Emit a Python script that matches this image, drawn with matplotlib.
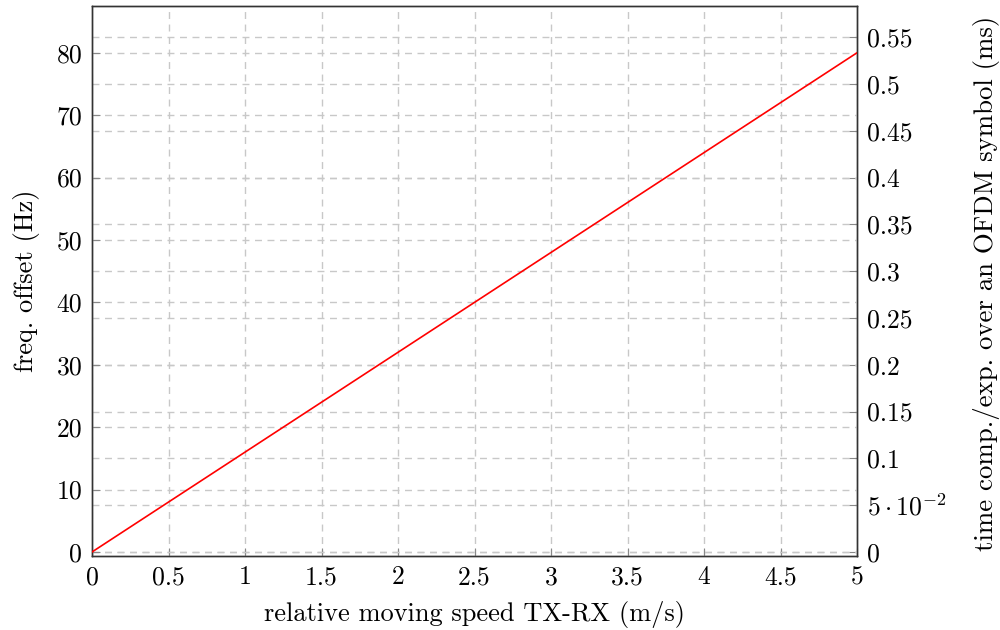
import matplotlib
matplotlib.use("Agg")
import matplotlib.pyplot as plt
import numpy as np

speed = [0, 1, 2, 3, 4, 5]            # m/s
freq_offset = [0, 16, 32, 48, 64, 80]  # Hz
left_ticks = [0, 10, 20, 30, 40, 50, 60, 70, 80]
right_ticks = [0, 0.05, 0.1, 0.15, 0.2, 0.25, 0.3, 0.35, 0.4, 0.45, 0.5, 0.55]
right_labels = ['0', r'$5\cdot10^{-2}$', '0.1', '0.15', '0.2', '0.25', '0.3',
                '0.35', '0.4', '0.45', '0.5', '0.55']
x_ticks = [0, 0.5, 1, 1.5, 2, 2.5, 3, 3.5, 4, 4.5, 5]
x_labels = ['0', '0.5', '1', '1.5', '2', '2.5', '3', '3.5', '4', '4.5', '5']
ms_per_hz = 1 / 150.0

plt.rcParams['font.family'] = ['cmr10', 'DejaVu Serif']
plt.rcParams['mathtext.fontset'] = 'cm'
plt.rcParams['axes.formatter.use_mathtext'] = True
plt.rcParams['font.size'] = 18

fig = plt.figure(figsize=(10, 6.3), dpi=100)
ax = fig.add_axes([0.092, 0.1175, 0.765, 0.873])
ax2 = ax.twinx()
# keep the red line above the right-axis grid
ax.set_zorder(ax2.get_zorder() + 1)
ax.patch.set_visible(False)

grid_kw = dict(color='#c8c8c8', linestyle=(0, (5, 4)), linewidth=1.0)

ax.plot(speed, freq_offset, color='#ff0000', linewidth=1.2, zorder=5)
ax.set_xlim(0, 5)
ax.set_ylim(-0.64, 87.5)
ax2.set_ylim(-0.64 * ms_per_hz, 87.5 * ms_per_hz)

ax.set_xticks(x_ticks)
ax.set_xticklabels(x_labels)
ax.set_yticks(left_ticks)
ax.set_yticklabels([str(t) for t in left_ticks])
ax2.set_yticks(right_ticks)
ax2.set_yticklabels(right_labels)

ax.grid(True, **grid_kw)
ax2.grid(True, axis='y', **grid_kw)
ax.set_axisbelow(True)

for a in (ax, ax2):
    a.tick_params(direction='in', length=6, width=0.8, color='#888888', labelsize=18.5)
    for s in a.spines.values():
        s.set_linewidth(1.0)
        s.set_color('#333333')
ax.tick_params(axis='x', pad=7)
ax.tick_params(axis='y', pad=7)
ax2.tick_params(axis='y', pad=7)

ax.set_xlabel('relative moving speed TX-RX (m/s)', fontsize=19, labelpad=8)
ax.set_ylabel('freq. offset (Hz)', fontsize=19, labelpad=12)
ax2.set_ylabel('time comp./exp. over an OFDM symbol (ms)', fontsize=19.3)
ax2.yaxis.set_label_coords(1.152, 0.495)

fig.savefig('out.png', dpi=100)
